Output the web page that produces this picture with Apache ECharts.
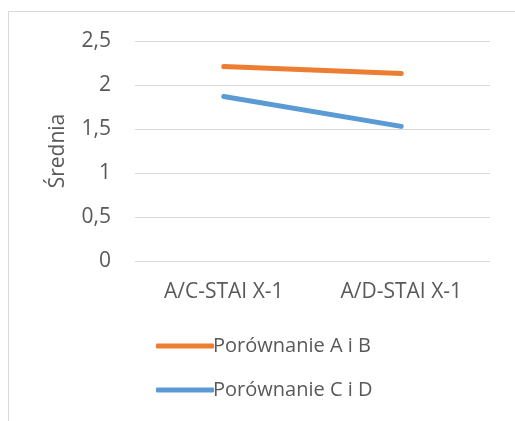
<!DOCTYPE html>
<html>
<head>
<meta charset="utf-8">
<script src="https://cdn.jsdelivr.net/npm/echarts@6/dist/echarts.min.js"></script>
<style>
  html, body { margin: 0; padding: 0; background: #fff; }
  #chart { width: 515px; height: 421px; }
</style>
</head>
<body>
<div id="chart"></div>
<script>
// Mean scores per comparison
const categories = ['A/C-STAI X-1', 'A/D-STAI X-1'];
const seriesNames = ['Porównanie A i B', 'Porównanie C i D'];
const valuesAB = [2.21, 2.13];
const valuesCD = [1.87, 1.53];
const yTicks = [0, 0.5, 1, 1.5, 2, 2.5];
const colors = ['#ED7D31', '#5B9BD5'];

const textColor = '#595959';
const font = 'Open Sans';
const fontSize = 21;

const chart = echarts.init(document.getElementById('chart'));
chart.setOption({
  animation: false,
  graphic: [{
    type: 'rect',
    shape: { x: 8.5, y: 11.5, width: 700, height: 700 },
    style: { fill: 'none', stroke: '#d9d9d9', lineWidth: 1 },
    silent: true
  }],
  grid: { left: 135, right: 25, top: 41, bottom: 160 },
  xAxis: {
    type: 'category',
    data: categories,
    boundaryGap: true,
    axisLine: { show: false },
    axisTick: { show: false },
    axisLabel: { color: textColor, fontFamily: font, fontSize: fontSize, margin: 21 }
  },
  yAxis: {
    type: 'value',
    min: yTicks[0],
    max: yTicks[yTicks.length - 1],
    interval: 0.5,
    name: 'Średnia',
    nameLocation: 'middle',
    nameGap: 66,
    nameRotate: 90,
    nameTextStyle: { color: textColor, fontFamily: font, fontSize: fontSize },
    axisLine: { show: false },
    axisTick: { show: false },
    splitLine: { lineStyle: { color: '#d9d9d9', width: 1 } },
    axisLabel: {
      color: textColor, fontFamily: font, fontSize: fontSize, margin: 24,
      formatter: v => String(v).replace('.', ',')
    }
  },
  legend: {
    orient: 'vertical',
    left: 151,
    top: 331,
    itemWidth: 58,
    itemHeight: 5,
    itemGap: 24,
    icon: 'roundRect',
    data: seriesNames,
    textStyle: { color: textColor, fontFamily: font, fontSize: 20, padding: [0, 0, 0, -6] }
  },
  series: [
    {
      name: seriesNames[0], type: 'line', data: valuesAB, symbol: 'none',
      color: colors[0],
      lineStyle: { width: 5, color: colors[0], cap: 'round' }
    },
    {
      name: seriesNames[1], type: 'line', data: valuesCD, symbol: 'none',
      color: colors[1],
      lineStyle: { width: 5, color: colors[1], cap: 'round' }
    }
  ]
});
</script>
</body>
</html>
